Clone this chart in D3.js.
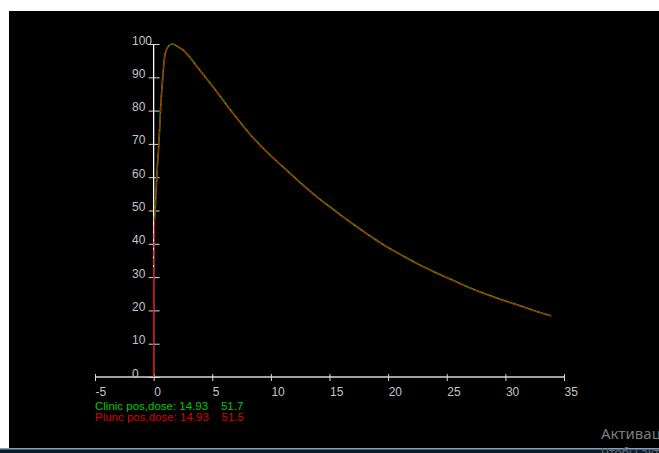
<!DOCTYPE html>
<html>
<head>
<meta charset="utf-8">
<script src="https://cdn.jsdelivr.net/npm/d3@7"></script>
<style>
  html, body { margin: 0; padding: 0; background: #fff; overflow: hidden; }
  svg { display: block; font-family: "Liberation Sans", Arial, sans-serif; }
</style>
</head>
<body>
<svg id="chart" width="659" height="453"></svg>
<script>
// tick values
var xTicks = [-5, 0, 5, 10, 15, 20, 25, 30, 35];
var yTicks = [0, 10, 20, 30, 40, 50, 60, 70, 80, 90, 100];

// depth (x) / dose (y)
var clinicX = [0.06, 0.14, 0.28, 0.46, 0.6, 0.8, 0.94, 1.22, 1.6, 1.93, 2.5, 3.93, 5.35, 6.77, 8.2, 9.6, 11.0, 12.5, 13.9, 15.3, 16.7, 18.2, 19.6, 21.0, 22.4, 23.85, 25.3, 26.7, 28.1, 29.5, 31.0, 32.4, 33.9];
var clinicY = [47, 51, 61, 71, 81, 91, 96.2, 99.2, 100, 99.5, 98.2, 92.2, 85.8, 79.2, 73.0, 67.8, 63.2, 58.4, 54.2, 50.4, 46.7, 43.0, 39.7, 36.9, 34.2, 31.7, 29.4, 27.2, 25.2, 23.4, 21.7, 20.0, 18.4];

var pluncX = [0, 0, 0.06, 0.14, 0.28, 0.46, 0.6, 0.8, 0.94, 1.22, 1.6, 1.93, 2.5, 3.93, 5.35, 6.77, 8.2, 9.6, 11.0, 12.5, 13.9, 15.3, 16.7, 18.2, 19.6, 21.0, 22.4, 23.85, 25.3, 26.7, 28.1, 29.5, 31.0, 32.4, 33.9];
var pluncY = [0, 31, 45, 50, 60, 70.5, 80.5, 90.5, 96, 99.2, 100, 99.5, 98.1, 92.1, 85.7, 79.1, 72.9, 67.7, 63.1, 58.3, 54.1, 50.2, 46.6, 42.9, 39.6, 36.8, 34.1, 31.6, 29.3, 27.1, 25.1, 23.3, 21.6, 19.9, 18.3];

// readout under the axis
var clinicPos = 14.93, clinicDose = 51.7;
var pluncPos = 14.93, pluncDose = 51.5;

var svg = d3.select('#chart');

// black plot window with taskbar strip underneath
svg.append('rect').attr('x', 9).attr('y', 11).attr('width', 650).attr('height', 437).attr('fill', '#000');
svg.append('rect').attr('x', 0).attr('y', 448).attr('width', 659).attr('height', 5).attr('fill', '#0d1b26');
svg.append('rect').attr('x', 0).attr('y', 448).attr('width', 659).attr('height', 1.5).attr('fill', '#7ea3c4');

var x = d3.scaleLinear().domain([-5, 35]).range([95, 564]);
var y = d3.scaleLinear().domain([0, 100]).range([377, 44]);

var axisColor = '#d8d8d8';
var labelColor = '#c4c4c4';

// x axis
var gx = svg.append('g').attr('transform', 'translate(0,' + y(0) + ')')
    .call(d3.axisBottom(x).tickValues(xTicks).tickSize(4).tickFormat(String));
gx.select('.domain').attr('d', 'M' + x(-5) + ',0H' + x(35)).attr('stroke', axisColor).attr('stroke-width', 1.3);
gx.selectAll('.tick line').attr('y1', -3).attr('y2', 4).attr('stroke', axisColor);
gx.selectAll('.tick text')
    .attr('y', 19).attr('dy', null).attr('text-anchor', 'start')
    .attr('fill', labelColor).attr('font-size', 12)
    .attr('font-family', '"Liberation Sans", Arial, sans-serif');

// y axis
var gy = svg.append('g').attr('transform', 'translate(' + x(0) + ',0)')
    .call(d3.axisLeft(y).tickValues(yTicks).tickSize(4).tickFormat(String));
gy.select('.domain').attr('d', 'M0,' + y(0) + 'V' + y(100)).attr('stroke', '#ffffff').attr('stroke-width', 1.3);
gy.selectAll('.tick line').attr('x1', -5).attr('x2', 6).attr('stroke', axisColor);
gy.selectAll('.tick text')
    .attr('x', 132 - x(0)).attr('dy', null).attr('y', 0)
    .attr('text-anchor', 'start')
    .attr('fill', labelColor).attr('font-size', 12)
    .attr('font-family', '"Liberation Sans", Arial, sans-serif');

// curves
var line = d3.line().x(function(d) { return x(d[0]); }).y(function(d) { return y(d[1]); })
    .curve(d3.curveMonotoneX);
var lineLinear = d3.line().x(function(d) { return x(d[0]); }).y(function(d) { return y(d[1]); });

svg.append('path')
    .attr('d', line(d3.zip(clinicX, clinicY)))
    .attr('fill', 'none').attr('stroke', '#00c400').attr('stroke-width', 1.6);

var pluncPts = d3.zip(pluncX, pluncY);
svg.append('path')
    .attr('d', lineLinear(pluncPts.slice(0, 2)))
    .attr('fill', 'none').attr('stroke', '#dd0000').attr('stroke-width', 1.2);
svg.append('path')
    .attr('d', line(pluncPts.slice(1)))
    .attr('fill', 'none').attr('stroke', '#dd0000').attr('stroke-width', 1.2)
    .attr('stroke-dasharray', '7,1.5');

// readout text
svg.append('text').attr('x', 95).attr('y', 410).attr('font-size', 11.5).attr('fill', '#00c800')
    .attr('xml:space', 'preserve')
    .text('Clinic pos,dose: ' + clinicPos.toFixed(2) + '    ' + clinicDose);
svg.append('text').attr('x', 95).attr('y', 421).attr('font-size', 11.5).attr('fill', '#d80000')
    .attr('xml:space', 'preserve')
    .text('Plunc pos,dose: ' + pluncPos.toFixed(2) + '    ' + pluncDose);

// windows watermark, cut off by the window edge as in the screenshot
svg.append('text').attr('x', 601).attr('y', 439).attr('font-size', 15)
    .attr('font-family', '"Noto Sans", "Open Sans", sans-serif').attr('fill', '#7c7c7c')
    .text('Активация Windows');
svg.append('text').attr('x', 601).attr('y', 457).attr('font-size', 12)
    .attr('font-family', '"Noto Sans", "Open Sans", sans-serif').attr('fill', '#6c6c6c')
    .text('Чтобы активировать Windows');
</script>
</body>
</html>
